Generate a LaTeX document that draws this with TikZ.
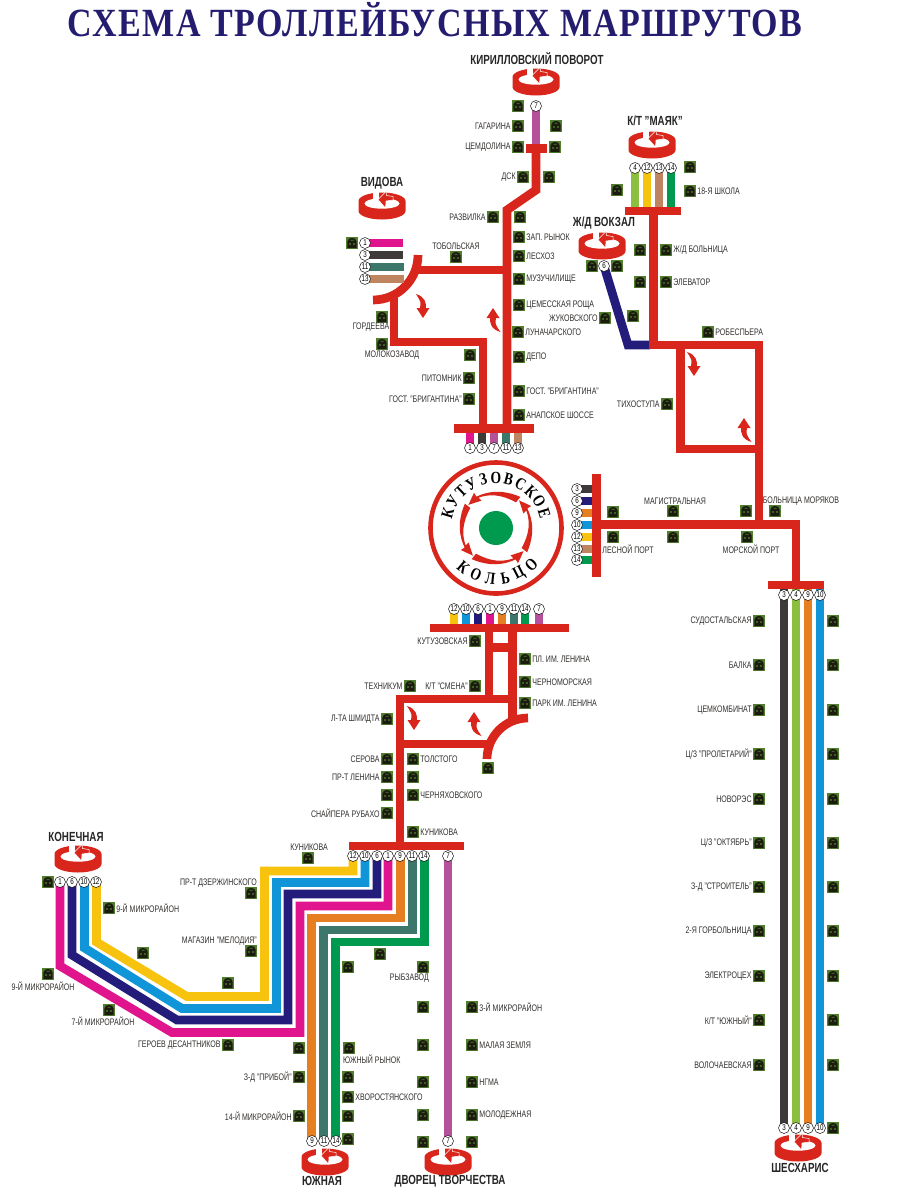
\documentclass[tikz,border=0pt]{standalone}
\usepackage{fontspec}
\setmainfont{Liberation Sans}[FakeStretch=0.74]
\newfontfamily\titlefont{Liberation Serif}[FakeStretch=0.85,LetterSpace=3.5]
\newfontfamily\ringfont{Liberation Serif}[FakeStretch=0.8]
\definecolor{rd}{HTML}{D9261C}
\definecolor{navyt}{HTML}{241C6E}
\definecolor{cmag}{HTML}{E0148C}
\definecolor{cgray}{HTML}{3E3A39}
\definecolor{cpur}{HTML}{B5509A}
\definecolor{cteal}{HTML}{3D776B}
\definecolor{ctan}{HTML}{BF8560}
\definecolor{clime}{HTML}{8CBF3F}
\definecolor{cyel}{HTML}{F7C30F}
\definecolor{cgrn}{HTML}{009A4E}
\definecolor{cnavy}{HTML}{241C7A}
\definecolor{corg}{HTML}{E67E22}
\definecolor{cblu}{HTML}{0F95D8}
\definecolor{stopg}{HTML}{527F2E}
\definecolor{stopd}{HTML}{1B1B10}
\definecolor{txt}{HTML}{33302E}
\tikzset{
  redline/.style={draw=rd,line width=8.7pt,line join=miter},
  route/.style={line width=8.7pt,line join=miter},
  stopbox/.style={rectangle,fill=stopg,minimum size=12pt,inner sep=0pt},
  lab/.style={text=txt,inner sep=0pt,font=\fontsize{9.5}{10}\selectfont},
  bold label/.style={text=black!85,inner sep=0pt,font=\fontsize{13.2}{14}\selectfont\bfseries},
  badgec/.style={circle,draw=black,line width=.45pt,fill=white,minimum size=11pt,inner sep=0pt,font=\fontsize{8.4}{8}\selectfont},
  ringletter/.style={inner sep=0pt,text=black,font=\fontsize{17}{18}\selectfont\ringfont\bfseries}
}
\newcommand\stopat[2]{%
  \node[stopbox] (s#1-#2) at (#1,#2) {};
  \begin{scope}[shift={(#1,#2)}]
    \fill[stopd] (-4.6,5) -- (-4.6,-1.5) .. controls (-4.6,-4.2) and (-2,-5) .. (0,-5) .. controls (2,-5) and (4.6,-4.2) .. (4.6,-1.5) -- (4.6,5) -- cycle;
    \fill[stopg] (-2.9,.4) rectangle (-1.1,1.7) (1.1,.4) rectangle (2.9,1.7) (-1.5,-3.2) rectangle (1.5,-2.3);
  \end{scope}}
\newcommand\stopR[3]{\stopat{#1}{#2}\node[lab,anchor=west] (t#1-#2) at ([xshift=1pt]s#1-#2.east) {#3};}
\newcommand\stopL[3]{\stopat{#1}{#2}\node[lab,anchor=east] (t#1-#2) at ([xshift=-1pt]s#1-#2.west) {#3};}
\newcommand\free[4][c]{\node[lab] (f#2-#3) at (#2,#3) {#4};}
\newcommand\badge[3]{\node[badgec] (b#1-#2) at (#1,#2) {#3};}
\newcommand\terminal[3]{%
  \coordinate (term#1) at (#2,#3);
  \begin{scope}[shift={(#2,#3)}]
    \fill[rd] (-23.5,-5) -- (-23.5,5) arc[start angle=180,end angle=0,x radius=23.5,y radius=8.5] -- (23.5,-5) arc[start angle=0,end angle=-180,x radius=23.5,y radius=8.5] -- cycle;
    \fill[white] (0,-2.5) ellipse[x radius=17.5,y radius=5.2];
    \fill[white] (-9,-14.5) rectangle (-3,-5);
    \fill[rd,draw=white,line width=.5pt] (-4,-6.5) -- (4,-14.5) -- (4.5,-10.5) -- (11,-9.5) -- (11,-6) -- (4,-5) -- (3.5,2) -- cycle;
  \end{scope}}
\newcommand\smalldown[2]{\fill[rd,shift={(#1,#2)}] (0,0) -- (-6.5,-10) -- (-3,-10) .. controls (-2,-16) .. (-7,-24) .. controls (2.5,-21) and (3,-15) .. (3,-10) -- (6.5,-10) -- cycle;}
\newcommand\smallup[2]{\fill[rd,shift={(#1,#2)}] (0,0) -- (6.5,10) -- (3,10) .. controls (2,16) .. (7.5,24) .. controls (-2.5,21) and (-3,15) .. (-3,10) -- (-6.5,10) -- cycle;}
\begin{document}
\begin{tikzpicture}[x=1pt,y=-1pt]
\useasboundingbox (0,0) rectangle (900,1200);
\fill[white] (0,0) rectangle (900,1200);
% title
\node[inner sep=0pt,text=navyt,font=\fontsize{40}{40}\selectfont\titlefont\bfseries] (title) at (435,20) {СХЕМА ТРОЛЛЕЙБУСНЫХ МАРШРУТОВ};

% ---- north section
\draw[route,cpur] (536,106) -- (536,148);
\draw[redline] (536,148) -- (536,190) -- (507,210) -- (507,428);
\draw[redline] (526,148.5) -- (547,148.5);
\draw[redline] (417,270) -- (507,270);
\draw[redline] (418,255) arc[start angle=0,end angle=90,radius=45];
\draw[redline] (394,298) -- (394,342) -- (483,342) -- (483,428);
\draw[route,cmag]  (365,243) -- (403,243);
\draw[route,cgray] (365,255) -- (403,255);
\draw[route,cteal] (365,267) -- (404,267);
\draw[route,ctan]  (365,279) -- (404,279);
\foreach \x/\c in {470/cmag,482/cgray,494/cpur,506/cteal,518/ctan}{\draw[route,\c,line width=8.5pt] (\x,432) -- (\x,448);}
\draw[redline] (454,428.5) -- (534,428.5);

% ---- mayak
\foreach \x/\c in {635/clime,647/cyel,659/ctan,671/cgrn}{\draw[route,\c] (\x,168) -- (\x,208);}
\draw[route,cnavy] (604,266) -- (628,345) -- (650,345);
\draw[redline] (625,211) -- (681,211);
\draw[redline] (653.5,211) -- (653.5,345);
\draw[redline] (649,345) -- (759,345) -- (759,524.5);
\draw[redline] (680.5,345) -- (680.5,449) -- (759,449);
\draw[redline] (592,524.5) -- (796,524.5) -- (796,585);
\draw[redline] (768,585) -- (824,585);
\foreach \y/\c in {489/cgray,501/cnavy,513/corg,525/cblu,537/cyel,549/ctan,560/cgrn}{\draw[route,\c,line width=8pt] (577,\y) -- (593,\y);}
\draw[redline] (596.5,474) -- (596.5,577);

% ---- ring
\draw[rd,line width=4.6pt,fill=white] (496,528) circle[radius=65.5];
\fill[cgrn] (496,528) circle[radius=17];
\foreach \a in {0,90,180,270}{
  \begin{scope}[shift={(496,528)},rotate=\a]
   \fill[rd] (-52:39.5) .. controls (-80:39) and (-100:38) .. (-122:37) -- (-122:41.5) -- (-140:36) -- (-118:31) -- (-120:35) .. controls (-100:35) and (-80:34) .. (-52:32.5) -- cycle;
  \end{scope}}
\foreach \ltr [count=\i from 0] in {К,У,Т,У,З,О,В,С,К,О,Е}{
  \pgfmathsetmacro\ang{197+\i*14.6}
  \pgfmathsetmacro\rot{270-\ang}
  \node[ringletter,rotate=\rot] (top\i) at ([shift={(496,528)}]\ang:50.5) {\ltr};
}
\foreach \ltr [count=\i from 0] in {К,О,Л,Ь,Ц,О}{
  \pgfmathsetmacro\ang{130-\i*16.8}
  \pgfmathsetmacro\rot{90-\ang}
  \node[ringletter,rotate=\rot] (bot\i) at ([shift={(496,528)}]\ang:51) {\ltr};
}

% ---- south of ring
\foreach \x/\c in {454/cyel,466/cblu,478/cnavy,490/cmag,502/corg,514/cteal,525/cgrn,539/cpur}{\draw[route,\c,line width=8.5pt] (\x,609) -- (\x,625);}
\draw[redline] (430,628) -- (569,628);
\draw[redline] (489,628) -- (489,699);
\draw[redline] (512.5,628) -- (512.5,718);
\draw[redline] (489,647.5) -- (512.5,647.5);
\draw[redline] (396,699) -- (516,699);
\draw[redline] (400,695) -- (400,846);
\draw[redline] (400,744) -- (488,744);
\draw[redline] (528,718) arc[start angle=270,end angle=180,radius=41];

% ---- bundle
\draw[route,cyel]  (353,856) -- (353,871) -- (264.5,871) -- (264.5,996.5) -- (187,996.5) -- (96.5,942) -- (96.5,882);
\draw[route,cblu]  (365,856) -- (365,882.5) -- (276.5,882.5) -- (276.5,1008.5) -- (182,1008.5) -- (84.5,948) -- (84.5,882);
\draw[route,cnavy] (377,856) -- (377,894) -- (288,894) -- (288,1020) -- (177,1020) -- (72,955) -- (72,882);
\draw[route,cmag]  (388,856) -- (388,906) -- (300,906) -- (300,1032.5) -- (172,1032.5) -- (60,966) -- (60,882);
\draw[route,corg]  (400.5,856) -- (400.5,918) -- (311.7,918) -- (311.7,1141);
\draw[route,cteal] (412.5,856) -- (412.5,930) -- (323.5,930) -- (323.5,1141);
\draw[route,cgrn]  (424.5,856) -- (424.5,942) -- (335.5,942) -- (335.5,1141);
\draw[route,cpur]  (448,856) -- (448,1141);
\draw[redline] (349,846) -- (464,846);
\foreach \x/\c in {784/cgray,796/clime,808/corg,820/cblu}{\draw[route,\c] (\x,589) -- (\x,1128);}
\draw[redline] (768,585) -- (824,585);

% ---- small arrows
\smalldown{423}{318}\smallup{493}{308}
\smalldown{694}{376}\smallup{744}{418}
\smalldown{414}{730}\smallup{474}{712}

% ---- terminals
\terminal{a}{536}{82}\node[bold label] (la) at (537,59) {КИРИЛЛОВСКИЙ ПОВОРОТ};
\terminal{b}{382}{206}\node[bold label] (lb) at (382,183) {ВИДОВА};
\terminal{c}{652}{145}\node[bold label] (lc) at (655,121) {К/Т "МАЯК"};
\terminal{d}{602}{246}\node[bold label] (ld) at (604,223) {Ж/Д ВОКЗАЛ};
\terminal{e}{78}{859}\node[bold label] (le) at (76,837) {КОНЕЧНАЯ};
\terminal{f}{325}{1162}\node[bold label] (lf) at (322,1181) {ЮЖНАЯ};
\terminal{g}{448}{1162}\node[bold label] (lg) at (450,1181) {ДВОРЕЦ ТВОРЧЕСТВА};
\terminal{h}{798}{1148}\node[bold label] (lh) at (800,1168) {ШЕСХАРИС};

% ---- badges
\badge{536}{106}{7}
\badge{365}{243}{1}\badge{365}{255}{3}\badge{365}{267}{11}\badge{365}{279}{13}
\badge{470}{448}{1}\badge{482}{448}{3}\badge{494}{448}{7}\badge{506}{448}{11}\badge{518}{448}{13}
\badge{635}{168}{4}\badge{647}{168}{12}\badge{659}{168}{13}\badge{671}{168}{14}
\badge{604}{266}{6}
\badge{577}{489}{3}\badge{577}{501}{6}\badge{577}{513}{9}\badge{577}{525}{10}\badge{577}{537}{12}\badge{577}{549}{13}\badge{577}{560}{14}
\badge{454}{609}{12}\badge{466}{609}{10}\badge{478}{609}{6}\badge{490}{609}{1}\badge{502}{609}{9}\badge{514}{609}{11}\badge{525}{609}{14}\badge{539}{609}{7}
\badge{353}{856}{12}\badge{365}{856}{10}\badge{377}{856}{6}\badge{388}{856}{1}\badge{400}{856}{9}\badge{412}{856}{11}\badge{424}{856}{14}\badge{448}{856}{7}
\badge{60}{882}{1}\badge{72}{882}{6}\badge{84}{882}{10}\badge{96}{882}{12}
\badge{312}{1141}{9}\badge{324}{1141}{11}\badge{336}{1141}{14}\badge{448}{1141}{7}
\badge{784}{595}{3}\badge{796}{595}{4}\badge{808}{595}{9}\badge{820}{595}{10}
\badge{784}{1128}{3}\badge{796}{1128}{4}\badge{808}{1128}{9}\badge{820}{1128}{10}

% ---- stops: north
\stopat{518}{106}
\stopL{518}{126}{ГАГАРИНА}\stopat{556}{126}
\stopL{518}{147}{ЦЕМДОЛИНА}\stopat{555}{147}
\stopL{523}{177}{ДСК}\stopat{549}{177}
\stopL{493}{217}{РАЗВИЛКА}\stopat{520}{217}
\stopR{519}{237}{ЗАП. РЫНОК}
\stopR{519}{256}{ЛЕСХОЗ}
\stopR{519}{279}{МУЗУЧИЛИЩЕ}
\stopR{519}{305}{ЦЕМЕССКАЯ РОЩА}
\stopR{518}{332}{ЛУНАЧАРСКОГО}
\stopL{605}{318}{ЖУКОВСКОГО}\stopat{633}{316}
\stopat{352}{243}
\stopat{456}{257}\free{456}{246}{ТОБОЛЬСКАЯ}
\stopat{382}{317}\free{371}{327.5}{ГОРДЕЕВА}
\stopat{382}{344}\free{392}{355}{МОЛОКОЗАВОД}
\stopat{470}{355}
\stopL{469}{378}{ПИТОМНИК}
\stopL{469}{399}{ГОСТ. "БРИГАНТИНА"}
\stopR{519}{357}{ДЕПО}
\stopR{519}{391}{ГОСТ. "БРИГАНТИНА"}
\stopR{519}{415}{АНАПСКОЕ ШОССЕ}
% east
\stopat{690}{167}\stopat{617}{190}
\stopR{690}{191}{18-Я ШКОЛА}
\stopat{640}{250}\stopR{666}{250}{Ж/Д БОЛЬНИЦА}
\stopat{640}{282}\stopR{666}{282}{ЭЛЕВАТОР}
\stopR{708}{332}{РОБЕСПЬЕРА}
\stopat{617}{266}\stopat{592}{266}
\stopL{667}{404}{ТИХОСТУПА}
\stopat{613}{512}\stopat{673}{511}\free{675}{501}{МАГИСТРАЛЬНАЯ}
\stopat{746}{511}\stopat{775}{511}\free{801}{501}{БОЛЬНИЦА МОРЯКОВ}
\stopat{613}{537}\free{628}{549}{ЛЕСНОЙ ПОРТ}
\stopat{673}{537}\stopat{747}{537}\free{751}{549}{МОРСКОЙ ПОРТ}
% right bundle
\stopL{759}{621}{СУДОСТАЛЬСКАЯ}\stopat{833}{621}
\stopL{759}{665}{БАЛКА}\stopat{833}{665}
\stopL{759}{710}{ЦЕМКОМБИНАТ}\stopat{833}{710}
\stopL{759}{754}{Ц/З "ПРОЛЕТАРИЙ"}\stopat{833}{754}
\stopL{759}{799}{НОВОРЭС}\stopat{833}{799}
\stopL{759}{843}{Ц/З "ОКТЯБРЬ"}\stopat{833}{843}
\stopL{759}{887}{З-Д "СТРОИТЕЛЬ"}\stopat{833}{887}
\stopL{759}{931}{2-Я ГОРБОЛЬНИЦА}\stopat{833}{931}
\stopL{759}{976}{ЭЛЕКТРОЦЕХ}\stopat{833}{976}
\stopL{759}{1020}{К/Т "ЮЖНЫЙ"}\stopat{833}{1020}
\stopL{759}{1065}{ВОЛОЧАЕВСКАЯ}\stopat{833}{1065}
\stopat{833}{1128}
% central south
\stopL{475}{641}{КУТУЗОВСКАЯ}
\stopR{525}{659}{ПЛ. ИМ. ЛЕНИНА}
\stopR{525}{682}{ЧЕРНОМОРСКАЯ}
\stopR{525}{703}{ПАРК ИМ. ЛЕНИНА}
\stopL{475}{686}{К/Т "СМЕНА"}
\stopL{410}{686}{ТЕХНИКУМ}
\stopL{387}{719}{Л-ТА ШМИДТА}
\stopL{387}{759}{СЕРОВА}\stopR{413}{759}{ТОЛСТОГО}
\stopL{387}{777}{ПР-Т ЛЕНИНА}\stopat{413}{777}
\stopat{387}{795}\stopR{413}{795}{ЧЕРНЯХОВСКОГО}
\stopL{387}{813}{СНАЙПЕРА РУБАХО}
\stopR{413}{832}{КУНИКОВА}
\stopat{488}{768}
% south west
\stopat{48}{882}
\stopR{109}{908}{9-Й МИКРОРАЙОН}
\stopat{48}{974}\free{43}{986}{9-Й МИКРОРАЙОН}
\stopat{143}{953}\stopat{228}{983}
\stopat{109}{1010}\free{103}{1021}{7-Й МИКРОРАЙОН}
\stopat{251}{893}\node[lab,anchor=east] (fdz) at (257,883) {ПР-Т ДЗЕРЖИНСКОГО};
\stopat{251}{951}\node[lab,anchor=east] (fmg) at (257,941) {МАГАЗИН "МЕЛОДИЯ"};
\stopat{308}{858}\free{309}{847}{КУНИКОВА}
\stopL{228}{1045}{ГЕРОЕВ ДЕСАНТНИКОВ}
\stopat{299}{1048}
\stopat{349}{1048}\node[lab,anchor=west] (fyu) at (343,1059) {ЮЖНЫЙ РЫНОК};
\stopat{380}{954}\stopat{348}{967}
\stopat{423}{967}\node[lab,anchor=east] (fry) at (429,978) {РЫБЗАВОД};
\stopat{423}{1007}\stopR{472}{1007}{3-Й МИКРОРАЙОН}
\stopat{423}{1045}\stopR{472}{1045}{МАЛАЯ ЗЕМЛЯ}
\stopL{299}{1077}{З-Д "ПРИБОЙ"}\stopat{348}{1077}
\stopR{348}{1097}{ХВОРОСТЯНСКОГО}
\stopL{299}{1116}{14-Й МИКРОРАЙОН}\stopat{348}{1116}
\stopat{423}{1082}\stopR{472}{1082}{НГМА}
\stopat{423}{1115}\stopR{472}{1115}{МОЛОДЕЖНАЯ}
\stopat{348}{1139}\stopat{423}{1142}\stopat{472}{1142}
\end{tikzpicture}
\end{document}
